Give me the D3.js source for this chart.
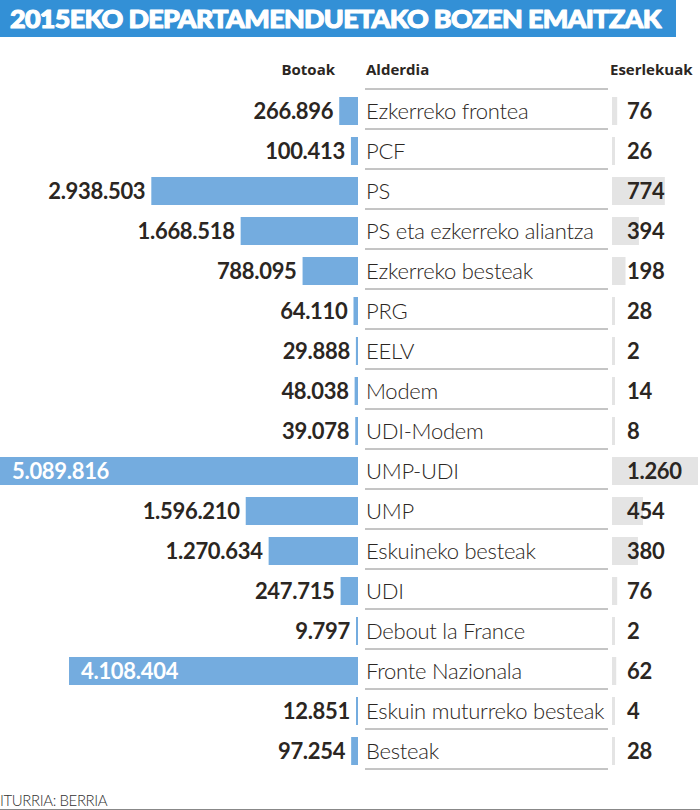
<!DOCTYPE html>
<html>
<head>
<meta charset="utf-8">
<script src="https://cdn.jsdelivr.net/npm/d3@7"></script>
<style>
  html, body { margin: 0; padding: 0; background: #fff; }
  svg { display: block; }
</style>
</head>
<body>
<svg id="chart" width="700" height="810"></svg>
<script>
const title = "2015EKO DEPARTAMENDUETAKO BOZEN EMAITZAK";
const headers = ["Botoak", "Alderdia", "Eserlekuak"];
const source = "ITURRIA: BERRIA";
const parties = ["Ezkerreko frontea","PCF","PS","PS eta ezkerreko aliantza","Ezkerreko besteak","PRG","EELV","Modem","UDI-Modem","UMP-UDI","UMP","Eskuineko besteak","UDI","Debout la France","Fronte Nazionala","Eskuin muturreko besteak","Besteak"];
const votes = [266896,100413,2938503,1668518,788095,64110,29888,48038,39078,5089816,1596210,1270634,247715,9797,4108404,12851,97254];
const seats = [76,26,774,394,198,28,2,14,8,1260,454,380,76,2,62,4,28];

const data = parties.map((p, i) => ({ party: p, votes: votes[i], seats: seats[i] }));
const fmt = d3.formatLocale({ decimal: ",", thousands: ".", grouping: [3], currency: ["", "€"] }).format(",d");

const svg = d3.select("#chart");
const font = "Lato, 'Open Sans', sans-serif";
const dark = "#2b2622";

// Title bar
svg.append("rect").attr("x", 0).attr("y", 0).attr("width", 676).attr("height", 37).attr("fill", "#3390d6");
const tt = svg.append("text").attr("x", 0).attr("y", 0).text(title)
  .attr("fill", "#fff").attr("stroke", "#fff").attr("stroke-width", 1.1).attr("stroke-linejoin", "round")
  .attr("font-family", font).attr("font-weight", 900)
  .attr("font-size", 25).attr("letter-spacing", "-0.6");
const tw = tt.node().getComputedTextLength();
tt.attr("transform", `translate(10,27.5) scale(${651 / tw},1)`);

// Scales
const y = d3.scaleBand().domain(parties).range([91, 771]).paddingInner(0.3).paddingOuter(0.15);
const xVotes = d3.scaleLinear().domain([0, d3.max(votes)]).range([0, 358]);
const xSeats = d3.scaleLinear().domain([0, d3.max(seats)]).range([0, 86]);
const barRight = 358;
const seatLeft = 612;

// Headers
const hdr = svg.append("g").attr("font-family", "'Open Sans', Lato, sans-serif").attr("font-weight", 700).attr("font-size", 15).attr("fill", dark);
hdr.append("text").attr("x", 335).attr("y", 75).attr("text-anchor", "end").text(headers[0]);
hdr.append("text").attr("x", 366).attr("y", 75).text(headers[1]);
hdr.append("text").attr("x", 610).attr("y", 75).text(headers[2]);

// Separator lines
const lineYs = [y(parties[0]) + y.bandwidth() / 2 - 22].concat(parties.map(p => y(p) + y.bandwidth() / 2 + 18));
svg.append("g").selectAll("line").data(lineYs).join("line")
  .attr("x1", 365).attr("x2", 608).attr("y1", d => d).attr("y2", d => d)
  .attr("stroke", "#8a8a8a").attr("stroke-width", 1);

const rows = svg.append("g").selectAll("g").data(data).join("g")
  .attr("transform", d => `translate(0,${y(d.party)})`);

const bh = y.bandwidth();
// vote bars
rows.append("rect")
  .attr("x", d => barRight - Math.max(xVotes(d.votes), 2))
  .attr("width", d => Math.max(xVotes(d.votes), 2))
  .attr("y", 0).attr("height", bh).attr("fill", "#74acdf");

const inside = d => xVotes(d.votes) > 260;
// vote labels
rows.append("text")
  .attr("x", d => inside(d) ? barRight - xVotes(d.votes) + 12 : barRight - Math.max(xVotes(d.votes), 2) - 6)
  .attr("y", bh / 2).attr("dy", "0.36em")
  .attr("text-anchor", d => inside(d) ? "start" : "end")
  .attr("fill", d => inside(d) ? "#fff" : dark)
  .attr("font-family", font).attr("font-weight", 700).attr("font-size", 22)
  .attr("letter-spacing", "-0.3")
  .text(d => fmt(d.votes));

// party labels
rows.append("text")
  .attr("x", 366).attr("y", bh / 2).attr("dy", "0.36em")
  .attr("fill", dark).attr("font-family", font).attr("font-weight", 300).attr("font-size", 22)
  .attr("letter-spacing", "-0.25")
  .text(d => d.party);

// seat bars
rows.append("rect")
  .attr("x", seatLeft).attr("width", d => Math.max(xSeats(d.seats), 3))
  .attr("y", 0).attr("height", bh).attr("fill", "#e4e4e4");

// seat labels
rows.append("text")
  .attr("x", 627).attr("y", bh / 2).attr("dy", "0.36em")
  .attr("fill", dark).attr("font-family", font).attr("font-weight", 700).attr("font-size", 22)
  .attr("letter-spacing", "-0.3")
  .text(d => fmt(d.seats));

// footer
svg.append("text").attr("x", 0).attr("y", 806).text(source)
  .attr("fill", "#333").attr("font-family", font).attr("font-weight", 300).attr("font-size", 15).attr("letter-spacing", "-0.4");
svg.append("line").attr("x1", 0).attr("x2", 700).attr("y1", 809.5).attr("y2", 809.5).attr("stroke", "#888").attr("stroke-width", 1);
</script>
</body>
</html>
